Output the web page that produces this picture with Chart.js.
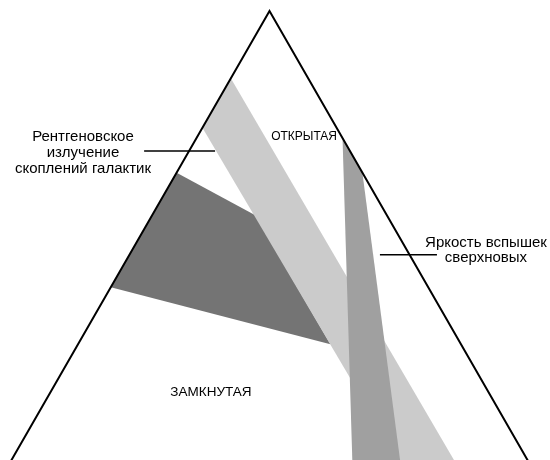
<!DOCTYPE html>
<html>
<head>
<meta charset="utf-8">
<script src="https://cdn.jsdelivr.net/npm/chart.js@4.4.1/dist/chart.umd.min.js"></script>
<style>
  html, body { margin: 0; padding: 0; background: #ffffff; }
  #wrap { width: 550px; height: 460px; position: relative; }
</style>
</head>
<body>
<div id="wrap"><canvas id="c"></canvas></div>
<script>
// Diagram units: triangle base corners at (-1,0) and (1,0), apex at (0,1)
const triangleSides   = [[-1.01, -0.01], [0, 1], [1.01, -0.01]];
const xrayBand        = [[-0.15, 0.85], [0.715, 0], [0.5, 0], [-0.26, 0.74]];          // рентгеновское излучение
const supernovaBand   = [[0.283, 0.717], [0.36, 0.64], [0.506, 0], [0.321, 0]];         // яркость сверхновых
const combinedRegion  = [[-0.36, 0.64], [-0.055, 0.545], [0.236, 0.258], [-0.615, 0.385]];
const xrayLeader      = [[-0.486, 0.688], [-0.211, 0.688]];
const supernovaLeader = [[0.428, 0.457], [0.649, 0.457]];

const xrayLabel      = ['Рентгеновское', 'излучение', 'скоплений галактик'];
const supernovaLabel = ['Яркость вспышек', 'сверхновых'];
const openLabel      = 'ОТКРЫТАЯ';
const closedLabel    = 'ЗАМКНУТАЯ';

const toPts = arr => arr.map(p => ({x: p[0], y: p[1]}));

// label anchors (diagram units) and styles
const labelItems = [
  {lines: xrayLabel,      at: [-0.723, 0.7194], lineStep: 0.0356, size: 15},
  {lines: supernovaLabel, at: [0.839, 0.4833],  lineStep: 0.0334, size: 15},
  {lines: [openLabel],    at: [0.134, 0.7194],  lineStep: 0,      size: 12},
  {lines: [closedLabel],  at: [-0.227, 0.1514], lineStep: 0,      size: 13.5}
];

const labelPlugin = {
  id: 'labels',
  afterDraw(chart) {
    const ctx = chart.ctx, xs = chart.scales.x, ys = chart.scales.y;
    ctx.save();
    ctx.fillStyle = '#000';
    ctx.textAlign = 'center';
    ctx.textBaseline = 'middle';
    labelItems.forEach(item => {
      ctx.font = item.size + 'px "Liberation Sans", Arial, sans-serif';
      item.lines.forEach((t, i) => {
        ctx.fillText(t, xs.getPixelForValue(item.at[0]), ys.getPixelForValue(item.at[1] - i * item.lineStep));
      });
    });
    ctx.restore();
  }
};

const poly = (pts, color, order) => ({
  data: toPts(pts.concat([pts[0]])),
  borderWidth: 0, borderColor: color, backgroundColor: color,
  fill: 'shape', pointRadius: 0, tension: 0, order
});
const stroke = (pts, width, order) => ({
  data: toPts(pts),
  borderWidth: width, borderColor: '#000', backgroundColor: '#000',
  borderJoinStyle: 'miter', borderCapStyle: 'butt',
  fill: false, pointRadius: 0, tension: 0, order
});

new Chart(document.getElementById('c'), {
  type: 'line',
  data: {
    datasets: [
      stroke(triangleSides, 2, 0),
      stroke(xrayLeader, 1.5, 1),
      stroke(supernovaLeader, 1.5, 1),
      poly(supernovaBand, '#a0a0a0', 2),
      poly(xrayBand, '#cbcbcb', 3),
      poly(combinedRegion, '#747474', 4)
    ]
  },
  options: {
    responsive: true,
    maintainAspectRatio: false,
    animation: false,
    events: [],
    layout: { padding: 0 },
    plugins: { legend: { display: false }, tooltip: { enabled: false }, title: { display: false } },
    scales: {
      x: { type: 'linear', min: -1.0446, max: 1.0872, display: false },
      y: { type: 'linear', min: 0, max: 1.0245, display: false }
    }
  },
  plugins: [labelPlugin]
});
</script>
</body>
</html>
